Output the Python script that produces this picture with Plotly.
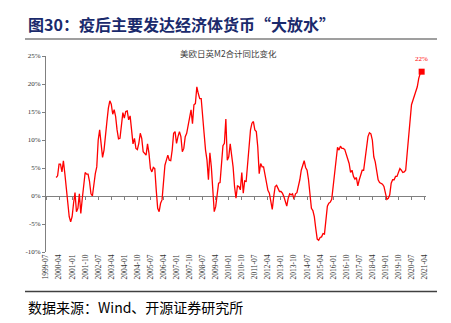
import plotly.graph_objects as go

# ---------------- data ----------------
axis_start = (1999, 7)          # first category on the axis
axis_months = 262               # 1999-07 .. 2021-04
series_start_offset = 7         # first value is 2000-02

m2_yoy_left = [
    3.3, 3.6, 5.7, 5.7, 4.3, 6.3, 4.0, 1.7, -1.3, -3.7,
    -4.6, -3.7, -1.3, 0.6, -2.8, -2.2, 0.4, -3.1, -0.5, 1.7,
    4.2, 3.9, 3.9, 2.6, 0.4, 0.0, 2.3, 4.0, 5.2, 10.0,
    11.8, 9.4, 6.9, 8.2, 10.3, 13.3, 15.7, 17.0, 16.4, 14.6,
    15.4, 14.2, 11.8, 10.2, 10.3, 13.3, 14.9, 13.9, 15.1, 15.2,
    13.6, 14.3, 12.1, 9.3, 10.3, 8.5, 8.3, 9.4, 11.2, 10.3,
    7.9, 7.5, 7.3, 9.3, 7.6, 4.9, 4.3, 5.1, 4.9, 1.1,
    -2.2, -2.8, -1.3, -0.7, 2.9, 5.5, 6.4, 7.3, 6.4, 6.3,
    8.2, 11.2, 11.5, 9.4, 10.6, 11.5, 10.6, 7.9, 8.5, 10.6,
    11.2, 12.7, 14.5, 15.4, 12.9, 16.3, 16.5, 19.5, 18.3, 17.4,
    17.4, 14.8, 11.2, 8.2, 6.4, 2.9, 7.7, 5.2, 1.1, -2.8,
    -1.9, 0.5, 2.3, 2.4,
]
m2_yoy_right = [
    6.0, 9.0, 9.4, 13.75, 6.4, 7.0, 9.3, 7.3, 5.2, 1.7,
    -0.4, 1.8, 1.7, 1.1, 4.2, 0.5, 2.7, 2.6, 5.7, 8.9,
    11.8, 13.0, 13.3, 11.8, 11.5, 8.8, 4.0, 5.8, 5.2, 5.2,
    3.75, 2.6, 1.0, 0.5, -1.3, -2.4, -0.1, 1.7, 1.9, 1.4,
    0.8, 0.8, 0.5, -0.1, -1.0, -1.8, -0.4, 0.4, 0.2, 0.4,
    -0.6, 0.4, 0.6, 1.7, 2.9, 4.6, 5.5, 6.3, 5.1, 4.6,
    2.9, 0.5, -2.2, -2.6, -3.7, -5.8, -7.7, -7.9, -7.4,
    -7.3, -6.7, -6.8, -4.3, -1.8, -1.3, -1.1, -0.6, 1.7, 4.6,
    7.0, 8.7, 8.2, 8.9, 8.5, 8.5, 8.3, 7.3, 6.3, 5.8,
    4.2, 4.6, 3.5, 3.0, 3.3, 1.8, 2.9, 4.0, 4.6, 4.6,
    6.4, 8.8, 10.6, 11.3, 11.1, 10.0, 7.0, 6.1, 4.0,
    2.9, 2.4, 2.3, 2.1, 1.7, 0.2, -0.6, -0.4, 0.2,
    2.3, 2.9, 2.9, 3.5, 3.5, 4.2, 4.9, 4.6, 4.2, 4.3,
    4.6, 7.6, 10.6, 13.3, 16.3, 17.1, 18.0, 18.6, 19.5, 21.0,
    21.9, 22.2,
]
m2_yoy = m2_yoy_left + m2_yoy_right

tick_labels = [
    "1999-07", "2000-04", "2001-01", "2001-10", "2002-07", "2003-04",
    "2004-01", "2004-10", "2005-07", "2006-04", "2007-01", "2007-10",
    "2008-07", "2009-04", "2010-01", "2010-10", "2011-07", "2012-04",
    "2013-01", "2013-10", "2014-07", "2015-04", "2016-01", "2016-10",
    "2017-07", "2018-04", "2019-01", "2019-10", "2020-07", "2021-04",
]
y_tick_values = [-10, -5, 0, 5, 10, 15, 20, 25]
y_tick_labels = ["-10%", "-5%", "0%", "5%", "10%", "15%", "20%", "25%"]
last_label = "22%"

title_text = "图30：疫后主要发达经济体货币“大放水”"
chart_title = "美欧日英M2合计同比变化"
source_text = "数据来源：Wind、开源证券研究所"

# ---------------- categories ----------------
months = []
y0, mo0 = axis_start
for i in range(axis_months):
    y = y0 + (mo0 - 1 + i) // 12
    m = (mo0 - 1 + i) % 12 + 1
    months.append(f"{y}-{m:02d}")
x_vals = months[series_start_offset:series_start_offset + len(m2_yoy)]

# ---------------- layout geometry ----------------
W, H = 451, 323
L, R, T, B = 46, 25, 56, 71
pw, ph = W - L - R, H - T - B

def px(xp):
    return (xp - L) / pw

def py(yp):
    return (H - B - yp) / ph

RED = "#FF0000"
GRAY = "#808080"
SERIF = "Liberation Serif, Times New Roman, serif"
CJK = "Noto Sans CJK SC, sans-serif"

fig = go.Figure()
fig.add_trace(go.Scatter(
    x=x_vals, y=m2_yoy, mode="lines",
    line=dict(color=RED, width=1.3),
    showlegend=False, hoverinfo="skip",
))
fig.add_trace(go.Scatter(
    x=[x_vals[-1]], y=[m2_yoy[-1]], mode="markers",
    marker=dict(symbol="square", size=6, color=RED),
    xaxis="x2", showlegend=False, hoverinfo="skip",
))

xr = [0, axis_months]
fig.update_layout(
    width=W, height=H,
    margin=dict(l=L, r=R, t=T, b=B, pad=0),
    paper_bgcolor="white", plot_bgcolor="white",
    xaxis=dict(
        type="category", categoryorder="array", categoryarray=months,
        range=xr, showgrid=False, zeroline=False, showline=False,
        ticks="", tickmode="array", tickvals=tick_labels, ticktext=tick_labels,
        tickangle=-90, tickfont=dict(family=SERIF, size=7.5, color="#333333"),
        anchor="y",
    ),
    xaxis2=dict(
        type="category", categoryorder="array", categoryarray=months,
        range=xr, overlaying="x", anchor="free", position=10 / 35,
        showgrid=False, zeroline=False, showline=False,
        ticks="outside", ticklen=3, tickcolor=GRAY, tickwidth=1,
        tickmode="array", tickvals=tick_labels, showticklabels=False,
    ),
    yaxis=dict(
        range=[-10, 25], tickmode="array", tickvals=y_tick_values,
        ticktext=y_tick_labels, showgrid=False,
        showline=True, linecolor=GRAY, linewidth=1,
        ticks="outside", ticklen=3, tickcolor=GRAY,
        zeroline=True, zerolinecolor=GRAY, zerolinewidth=1,
        tickfont=dict(family=SERIF, size=7, color="#333333"),
    ),
)

fig.add_annotation(
    x=x_vals[-1], y=m2_yoy[-1], xref="x2", yref="y", text=last_label,
    showarrow=False, yshift=13, font=dict(family=SERIF, size=7, color=RED),
)
fig.add_annotation(
    x=px(26), y=py(24), xref="paper", yref="paper", xanchor="left", yanchor="middle",
    text=f"<b>{title_text}</b>", showarrow=False,
    font=dict(family=CJK, size=16, color="#1a2a6c"),
)
fig.add_annotation(
    x=px(228.5), y=py(52.7), xref="paper", yref="paper", xanchor="center", yanchor="middle",
    text=chart_title, showarrow=False,
    font=dict(family=CJK, size=8.5, color="#404040"),
)
fig.add_annotation(
    x=px(26), y=py(306.5), xref="paper", yref="paper", xanchor="left", yanchor="middle",
    text=source_text, showarrow=False,
    font=dict(family=CJK, size=14, color="#000000"),
)
fig.add_shape(type="line", xref="paper", yref="paper",
              x0=px(25), x1=px(437), y0=py(39), y1=py(39),
              line=dict(color="#7f7f7f", width=1.5))
fig.add_shape(type="line", xref="paper", yref="paper",
              x0=px(25), x1=px(437), y0=py(291.5), y1=py(291.5),
              line=dict(color="#404040", width=1.5))

fig.write_html("out.html")
